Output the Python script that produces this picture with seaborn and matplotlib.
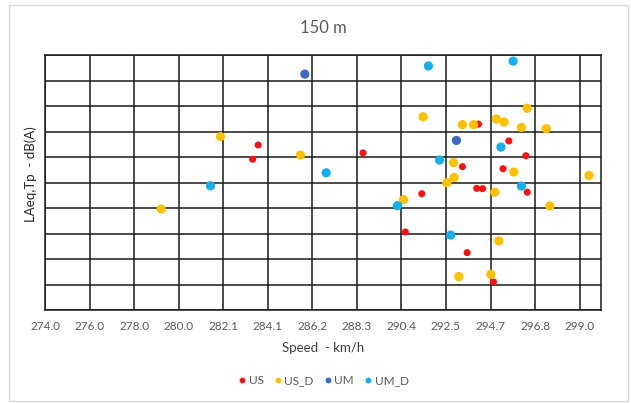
import matplotlib
matplotlib.use("Agg")
import matplotlib.pyplot as plt
from matplotlib.lines import Line2D
from matplotlib.patches import Rectangle
import numpy as np
import pandas as pd
import seaborn as sns

# Pass-by measurements at 150 m: train speed (km/h) vs LAeq,Tp (dB(A))
us_speed = [283.97, 283.71, 294.27, 295.69, 296.49, 288.87, 293.52, 295.42,
            294.19, 294.46, 296.55, 291.62, 290.85, 293.74, 294.97]
us_level = [92.47, 91.91, 93.29, 92.63, 92.05, 92.16, 91.62, 91.54,
            90.77, 90.76, 90.62, 90.56, 89.06, 88.25, 87.10]

us_d_speed = [282.21, 285.95, 279.43, 296.55, 291.68, 293.52, 294.04, 295.11,
              295.47, 296.28, 297.44, 293.10, 295.92, 299.44, 293.13, 292.79,
              295.03, 290.76, 297.61, 295.22, 293.35, 294.85]
us_d_level = [92.80, 92.08, 89.96, 93.91, 93.58, 93.27, 93.27, 93.49,
              93.37, 93.16, 93.11, 91.78, 91.41, 91.28, 91.20, 90.99,
              90.62, 90.33, 90.08, 88.71, 87.31, 87.40]

um_speed = [286.15, 293.24]
um_level = [95.25, 92.65]

um_d_speed = [287.15, 281.74, 291.93, 295.89, 295.32, 292.45, 296.28, 290.48, 292.97]
um_d_level = [91.38, 90.87, 95.57, 95.76, 92.39, 91.88, 90.86, 90.09, 88.94]

series_names = ["US", "US_D", "UM", "UM_D"]
x_tick_labels = ["274.0", "276.0", "278.0", "280.0", "282.1", "284.1", "286.2",
                 "288.3", "290.4", "292.5", "294.7", "296.8", "299.0"]

colors = {"US": "#FF1010", "US_D": "#FFC000", "UM": "#3A6BBF", "UM_D": "#12B0EC"}
sizes = {"US": 26, "US_D": 44, "UM": 44, "UM_D": 44}

df = pd.concat([
    pd.DataFrame({"speed": us_speed, "level": us_level, "series": "US"}),
    pd.DataFrame({"speed": us_d_speed, "level": us_d_level, "series": "US_D"}),
    pd.DataFrame({"speed": um_speed, "level": um_level, "series": "UM"}),
    pd.DataFrame({"speed": um_d_speed, "level": um_d_level, "series": "UM_D"}),
], ignore_index=True)

sns.set_theme(style="white")
plt.rcParams["font.family"] = ["Lato", "DejaVu Sans"]

W, H = 631, 403
fig = plt.figure(figsize=(W / 100, H / 100), dpi=100)
fig.patch.set_facecolor("white")
fig.patches.append(Rectangle((9 / W, 2 / H), 619 / W, 396 / H, transform=fig.transFigure,
                             fill=False, edgecolor="#D9D9D9", linewidth=1.0))

ax = fig.add_axes([45 / W, (H - 310) / H, 556 / W, 255 / H])

for name in series_names:
    sub = df[df["series"] == name]
    sns.scatterplot(data=sub, x="speed", y="level", color=colors[name], s=sizes[name],
                    edgecolor="none", linewidth=0, ax=ax, legend=False, zorder=3)

ax.set_xlim(274, 300)
ax.set_ylim(86, 96)
step = 25 / 12
ax.set_xticks([274 + i * step for i in range(len(x_tick_labels))])
ax.set_xticklabels(x_tick_labels)
ax.set_yticks(np.arange(86, 96.01, 1))
ax.set_yticklabels([])
ax.grid(True, color="#1A1A1A", linewidth=1.1)
ax.set_axisbelow(True)
for sp in ax.spines.values():
    sp.set_color("#1A1A1A")
    sp.set_linewidth(1.1)
ax.tick_params(axis="both", length=0, pad=8, labelsize=8.5, labelcolor="#595959")

ax.set_xlabel("Speed  - km/h", fontsize=9.5, color="#404040", labelpad=7)
ax.set_ylabel("LAeq,Tp  - dB(A)", fontsize=9.5, color="#262626")
ax.yaxis.set_label_coords(-(45 - 37) / 556, (310 - 174) / 255)

fig.text(323 / W, 1 - 28 / H, "150 m", ha="center", va="center",
         fontsize=12, color="#595959")

handles = [Line2D([], [], marker="o", linestyle="none", markersize=4.2,
                  markerfacecolor=colors[n], markeredgecolor="none") for n in series_names]
fig.legend(handles, series_names, loc="center", bbox_to_anchor=(323 / W, 1 - 381 / H),
           ncol=4, frameon=False, fontsize=8.5, handletextpad=0.15, columnspacing=0.8,
           labelcolor="#595959", handlelength=0.8)

fig.savefig("out.png", dpi=100, facecolor="white")
